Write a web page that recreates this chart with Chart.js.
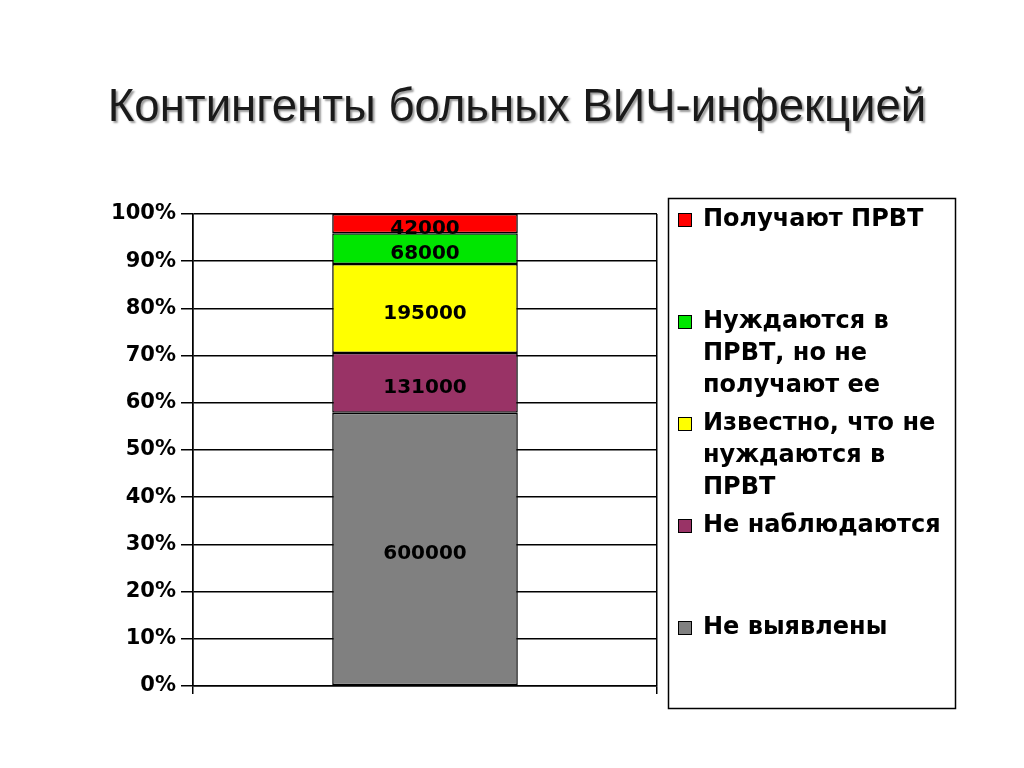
<!DOCTYPE html>
<html>
<head>
<meta charset="utf-8">
<script src="https://cdn.jsdelivr.net/npm/chart.js@4.4.1/dist/chart.umd.min.js"></script>
<style>
  html, body { margin: 0; padding: 0; background: #fff; }
  #wrap { width: 1024px; height: 768px; }
</style>
</head>
<body>
<div id="wrap"><canvas id="hivChart"></canvas></div>
<script>
const chartTitle = "Контингенты больных ВИЧ-инфекцией";
const categories = [""];
// stack order, bottom to top
const groupNames = [
  ["Не выявлены"],
  ["Не наблюдаются"],
  ["Известно, что не", "нуждаются в", "ПРВТ"],
  ["Нуждаются в", "ПРВТ, но не", "получают ее"],
  ["Получают ПРВТ"],
];
const patients = [600000, 131000, 195000, 68000, 42000];
const groupColors = ["#808080", "#993366", "#FFFF00", "#00E600", "#FF0000"];
const percentTicks = [0, 10, 20, 30, 40, 50, 60, 70, 80, 90, 100];

const total = patients.reduce((a, b) => a + b, 0);
const shares = patients.map((v) => (v / total) * 100);

const boldFont = "'DejaVu Sans', Verdana, sans-serif";

const decorPlugin = {
  id: "decor",
  afterDatasetsDraw(chart) {
    const ctx = chart.ctx;
    ctx.save();
    ctx.font = "bold 20px " + boldFont;
    ctx.fillStyle = "#000";
    ctx.textAlign = "center";
    ctx.textBaseline = "middle";
    chart.data.datasets.forEach((ds, i) => {
      const bar = chart.getDatasetMeta(i).data[0];
      const mid = (bar.y + bar.base) / 2;
      ctx.fillText(String(patients[i]), bar.x, mid + 5);
    });
    ctx.restore();
  },
  afterDraw(chart) {
    const ctx = chart.ctx;

    // title with soft shadow
    ctx.save();
    ctx.font = "45.5px 'Liberation Sans', Arial, sans-serif";
    ctx.textAlign = "center";
    ctx.textBaseline = "alphabetic";
    ctx.shadowColor = "rgba(0,0,0,0.4)";
    ctx.shadowOffsetX = 2;
    ctx.shadowOffsetY = 2;
    ctx.shadowBlur = 2;
    ctx.fillStyle = "#1a1a1a";
    ctx.fillText(chartTitle, 517, 121);
    ctx.restore();

    // legend box
    ctx.save();
    ctx.strokeStyle = "#000";
    ctx.lineWidth = 1.5;
    ctx.strokeRect(668.5, 198.5, 287, 510);
    ctx.font = "bold 24px " + boldFont;
    ctx.textAlign = "left";
    ctx.textBaseline = "middle";
    let row = 0;
    for (let i = groupNames.length - 1; i >= 0; i--) {
      const y = 220 + row * 102;
      ctx.fillStyle = groupColors[i];
      ctx.fillRect(678, y - 7, 14, 14);
      ctx.lineWidth = 1;
      ctx.strokeStyle = "#000";
      ctx.strokeRect(678.5, y - 6.5, 13, 13);
      ctx.fillStyle = "#000";
      groupNames[i].forEach((line, k) => {
        ctx.fillText(line, 703, y + k * 32);
      });
      row++;
    }
    ctx.restore();
  },
};

new Chart(document.getElementById("hivChart"), {
  type: "bar",
  plugins: [decorPlugin],
  data: {
    labels: categories,
    datasets: groupNames.map((name, i) => ({
      label: name.join(" "),
      data: [shares[i]],
      backgroundColor: groupColors[i],
      borderColor: "#000",
      borderWidth: 1.5,
      borderSkipped: false,
      barPercentage: 0.4,
      categoryPercentage: 1,
    })),
  },
  options: {
    responsive: true,
    maintainAspectRatio: false,
    animation: false,
    layout: {
      padding: { left: 100, right: 367, top: 214, bottom: 74 },
    },
    plugins: {
      legend: { display: false },
      title: { display: false },
      tooltip: { enabled: false },
    },
    scales: {
      x: {
        stacked: true,
        offset: true,
        grid: { color: "#000", lineWidth: 1.5, offset: true, drawTicks: true, tickLength: 8 },
        border: { color: "#000", width: 1.5 },
        ticks: { display: false },
        afterFit(scale) {
          scale.height = 8;
        },
      },
      y: {
        stacked: true,
        min: 0,
        max: 100,
        afterBuildTicks(scale) {
          scale.ticks = percentTicks.map((v) => ({ value: v }));
        },
        grid: { color: "#000", lineWidth: 1.5, tickLength: 12 },
        border: { color: "#000", width: 1.5 },
        ticks: {
          color: "#000",
          padding: 5,
          font: { family: boldFont, size: 21, weight: "bold" },
          callback: (v) => v + "%",
        },
        afterFit(scale) {
          scale.width = 93;
        },
      },
    },
  },
});
</script>
</body>
</html>
